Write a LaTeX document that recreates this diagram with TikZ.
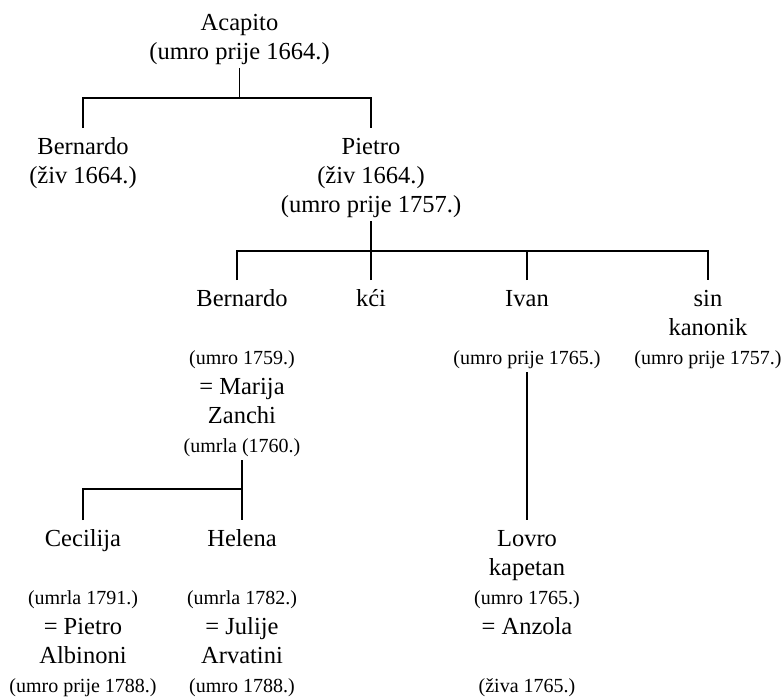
\documentclass[tikz,border=0pt]{standalone}
\usepackage{fontspec}
\setmainfont{Liberation Serif}
\newcommand\smalldate[1]{{\fontsize{20}{29.3}\selectfont #1}}
\newcommand\firstline{\rule{0pt}{23pt}}
\tikzset{person/.style={anchor=north,align=center,inner xsep=0pt,inner ysep=3pt,
    font=\fontsize{24.5}{29.3}\selectfont},
  kin/.style={line width=1.5pt}}

\begin{document}
\begin{tikzpicture}[x=1pt,y=1pt]
\useasboundingbox (0,0) rectangle (784,-697);
% generations, top to bottom
\node[person] (acapito) at (239.5,-4) {\firstline Acapito\\(umro prije 1664.)};
\node[person] (bernardoA) at (83,-128) {\firstline Bernardo\\(živ 1664.)};
\node[person] (pietro) at (371,-128) {\firstline Pietro\\(živ 1664.)\\(umro prije 1757.)};
\node[person] (bernardoB) at (242,-280) {\firstline Bernardo\\\mbox{}\\\smalldate{(umro 1759.)}\\= Marija\\Zanchi\\\smalldate{(umrla (1760.)}};
\node[person] (kci) at (371,-280) {\firstline kći};
\node[person] (ivan) at (527,-280) {\firstline Ivan\\\mbox{}\\\smalldate{(umro prije 1765.)}};
\node[person] (sin) at (708,-280) {\firstline sin\\kanonik\\\smalldate{(umro prije 1757.)}};
\node[person] (cecilija) at (83,-520) {\firstline Cecilija\\\mbox{}\\\smalldate{(umrla 1791.)}\\= Pietro\\Albinoni\\\smalldate{(umro prije 1788.)}};
\node[person] (helena) at (242,-520) {\firstline Helena\\\mbox{}\\\smalldate{(umrla 1782.)}\\= Julije\\Arvatini\\\smalldate{(umro 1788.)}};
\node[person] (lovro) at (527,-520) {\firstline Lovro\\kapetan\\\smalldate{(umro 1765.)}\\= Anzola\\\mbox{}\\\smalldate{(živa 1765.)}};
% descent lines
\draw[kin] (acapito.south) -- ++(0,-30) coordinate (barA);
\draw[kin] (bernardoA.north) |- (barA) -| (pietro.north);
\draw[kin] (pietro.south) -- ++(0,-30) coordinate (barP);
\draw[kin] ([xshift=-5pt]bernardoB.north) |- (barP) -| (sin.north);
\draw[kin] (kci.north) -- (kci.north |- barP);
\draw[kin] (ivan.north) -- (ivan.north |- barP);
\draw[kin] (bernardoB.south) -- ++(0,-29) coordinate (barB) -- (helena.north);
\draw[kin] (cecilija.north) |- (barB);
\draw[kin] (ivan.south) -- (lovro.north);
\end{tikzpicture}
\end{document}
